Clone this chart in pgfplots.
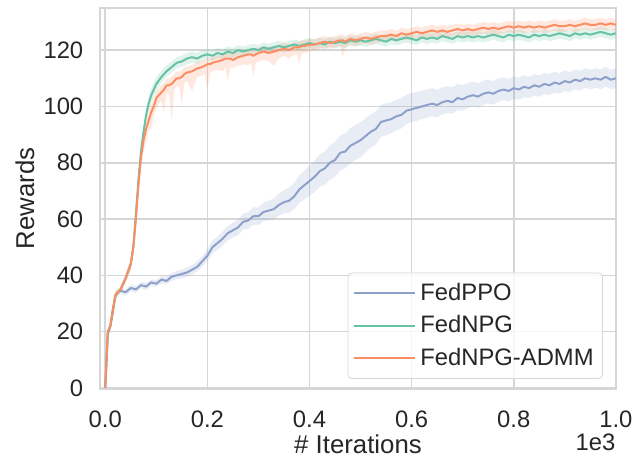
\documentclass[border=0pt]{standalone}
\usepackage{pgfplots}
\pgfplotsset{compat=1.18}
\usepackage{pgfplotstable}
\usepgfplotslibrary{fillbetween}
\usepackage{fontspec}
\setmainfont{Liberation Sans}

\definecolor{cppo}{HTML}{8DA0CB}
\definecolor{cnpg}{HTML}{66C2A5}
\definecolor{cadm}{HTML}{FC8D62}
\definecolor{cgrid}{HTML}{D6D6D6}
\definecolor{ctext}{HTML}{262626}

% x in units of 1e3 iterations; dn/up = spread below/above the mean
\pgfplotstableread{
x y dn up
0 0 0 0
0.005 19 1 1
0.01 22 1.5 1.5
0.015 27 1.5 1.5
0.02 33 1.5 1
0.025 34 1 1
0.03 34.5 1 1.2
0.04 34 1.2 1
0.05 35.5 1 1.3
0.06 35 1.3 1
0.07 36.5 1 1.2
0.08 36 1.2 1.3
0.09 37.5 1.3 1
0.10 37 1 1.4
0.11 38.5 1.4 1.2
0.12 38 1.2 1.5
0.13 39.5 1.5 1.3
0.14 40 1.3 1.6
0.15 40.5 1.6 1.5
0.16 41 1.5 1.8
0.17 42 1.8 1.6
0.18 43 1.6 2
0.19 45 2 1.8
0.20 47 2 2.2
0.21 50 2.2 2.5
0.22 51.5 2.5 2.2
0.23 53 2.4 2.6
0.24 55 2.6 2.5
0.25 56 2.5 2.8
0.26 57 2.8 2.7
0.27 59 2.7 3
0.28 59.5 3 2.9
0.29 61 3 3.2
0.30 61 3.2 3.1
0.31 62.5 3.2 3.4
0.32 63 3.4 3.5
0.33 63.5 3.6 3.8
0.34 65 3.8 4
0.35 66 4 4.3
0.36 66.5 4.2 4.6
0.37 68 4.5 4.8
0.38 70.5 4.8 5
0.39 72 5 5.3
0.40 73.5 5.2 5.5
0.41 75 5.4 5.8
0.42 77 5.6 6
0.43 78 5.8 6
0.44 80 6 6.2
0.45 81 6 6.4
0.46 83.5 6.2 6.2
0.47 84 6 6.5
0.48 86 6.2 6.3
0.49 87 6 6.5
0.50 88 6.1 6.4
0.51 89.5 5.8 6.3
0.52 91 5.6 6.2
0.53 92 5.5 6.3
0.54 94.5 5.3 6
0.55 95 5.2 6.1
0.56 95.5 5 6
0.57 96.5 5 5.8
0.58 97 4.8 5.9
0.59 98.5 4.8 5.7
0.60 99 4.6 5.8
0.61 99.5 4.6 5.6
0.62 100 4.5 5.7
0.63 100.5 4.5 5.5
0.64 101 4.4 5.5
0.65 100.5 4.4 5.4
0.66 101.5 4.3 5.3
0.67 102 4.3 5.2
0.68 101.5 4.2 5.2
0.69 103 4.2 5
0.70 102.5 4.1 5
0.71 103.5 4.1 4.9
0.72 104 4 4.8
0.73 103.5 4 4.8
0.74 104.5 4 4.6
0.75 105 3.9 4.6
0.76 104.5 3.9 4.5
0.77 105.5 3.8 4.4
0.78 106 3.8 4.3
0.79 105.5 3.8 4.3
0.80 106.5 3.7 4.2
0.81 106 3.7 4.2
0.82 107 3.7 4.1
0.83 106.5 3.6 4
0.84 107.5 3.6 4
0.85 107 3.6 4
0.86 108 3.6 3.9
0.87 107.5 3.5 3.9
0.88 108.5 3.5 3.8
0.89 108 3.5 3.8
0.90 109 3.5 3.8
0.91 108.5 3.5 3.7
0.92 109.5 3.4 3.7
0.93 109 3.4 3.7
0.94 110 3.4 3.6
0.95 109.5 3.4 3.6
0.96 110 3.4 3.6
0.97 109.5 3.4 3.6
0.98 110.5 3.4 3.5
0.99 109.5 3.4 3.5
1.00 110 3.4 3.5
}\ppo

\pgfplotstableread{
x y dn up
0 0 0 0
0.005 20 1 1
0.01 22 1.5 1.5
0.015 28 1.5 1.5
0.02 33 1.5 1.5
0.025 34 1 1
0.03 35 1 1
0.04 39 1.5 1.5
0.05 44 2 2
0.055 50 2.5 2.5
0.06 62 3 3
0.065 74 3 3
0.07 84 3 3
0.075 91 3 2.5
0.08 97 2.5 2.5
0.085 101 2.5 2.5
0.09 104 2.5 2.5
0.095 106 2.5 2.5
0.10 108 2.5 2.5
0.11 110.5 2.2 2.2
0.12 112.5 2 2.2
0.13 114 2 2
0.14 115.5 2 2
0.15 116 2 2
0.16 117 2 2
0.17 117.5 2 2
0.18 117 1.8 2
0.19 118 1.8 2
0.20 118.5 1.8 1.8
0.21 118 1.8 1.8
0.22 119 1.8 1.8
0.23 118.5 1.8 1.8
0.24 119.5 1.8 1.8
0.25 119 1.8 1.8
0.26 120 1.8 1.8
0.27 119.5 1.8 1.8
0.28 120 1.8 1.8
0.29 120.5 1.8 1.8
0.30 120 1.8 1.8
0.31 121 1.8 1.8
0.32 120.5 1.8 1.8
0.33 121 1.8 1.8
0.34 121.5 1.8 1.8
0.35 121 1.8 1.8
0.36 121.5 1.8 1.8
0.37 122 1.8 1.8
0.38 121.5 1.8 1.8
0.39 122 1.8 1.8
0.40 122.5 1.8 1.8
0.41 122 1.8 1.8
0.42 122.5 1.8 1.8
0.43 122 1.8 1.8
0.44 123 1.8 1.8
0.45 122.5 1.8 1.8
0.46 123 1.8 1.8
0.47 122.5 1.8 1.8
0.48 123.5 1.8 1.8
0.49 123 1.8 1.8
0.50 123.5 1.8 1.8
0.51 123 1.8 1.8
0.52 123.5 1.8 1.8
0.53 124 1.8 1.8
0.54 123.5 1.8 1.8
0.55 123 1.8 1.8
0.56 124 1.8 1.8
0.57 123.5 1.8 1.8
0.58 124 1.8 1.8
0.59 124.5 1.8 1.8
0.60 124 1.8 1.8
0.61 123.5 1.8 1.8
0.62 124.5 1.8 1.8
0.63 124 1.8 1.8
0.64 124.5 1.8 1.8
0.65 124 1.8 1.8
0.66 125 1.8 1.8
0.67 124.5 1.8 1.8
0.68 124 1.8 1.8
0.69 125 1.8 1.8
0.70 124.5 1.8 1.8
0.71 125 1.8 1.8
0.72 124.5 1.8 1.8
0.73 125 1.8 1.8
0.74 124.5 1.8 1.8
0.75 125 1.8 1.8
0.76 125.5 1.8 1.8
0.77 125 1.8 1.8
0.78 124.5 1.8 1.8
0.79 125.5 1.8 1.8
0.80 125 1.8 1.8
0.81 125.5 1.8 1.8
0.82 125 1.8 1.8
0.83 124.5 1.8 1.8
0.84 125.5 1.8 1.8
0.85 125 1.8 1.8
0.86 125.5 1.8 1.8
0.87 125 1.8 1.8
0.88 125.5 1.8 1.8
0.89 126 1.8 1.8
0.90 125.5 1.8 1.8
0.91 125 1.8 1.8
0.92 126 1.8 1.8
0.93 125.5 1.8 1.8
0.94 126 1.8 1.8
0.95 125.5 1.8 1.8
0.96 126 1.8 1.8
0.97 126.5 1.8 1.8
0.98 126 1.8 1.8
0.99 125.5 1.8 1.8
1.00 126 1.8 1.8
}\npg

\pgfplotstableread{
x y dn up
0 0 0 0
0.005 20 1 1
0.01 22 1.5 1.5
0.015 28 1.5 1.5
0.02 33 1.5 1.5
0.025 34 1 1
0.03 35 1 1
0.04 39 1.5 1.5
0.05 44 2 2
0.055 50 2.5 2.5
0.06 60 3 3
0.065 72 3 3
0.07 82 3 3
0.075 88 4 3
0.08 92 5 3
0.085 95 3 3
0.09 98 6 3
0.095 100 3 3
0.10 103 4 2.5
0.105 104 3 2.5
0.11 105 3 2.5
0.115 106 8 2.5
0.12 107.5 3 2.5
0.125 107.5 3 2.5
0.13 108 13 2.5
0.135 109 3 2.5
0.14 110 3 2.5
0.145 110 3 2.5
0.15 110.5 10 2.5
0.155 111.5 3 2.5
0.16 112 3 2.2
0.17 112.5 7 2.2
0.18 113.5 3 2.2
0.19 114 3 2.2
0.195 114.5 3 2
0.20 115 9 2
0.205 115 3 2
0.21 115.5 3 2
0.22 116 3 2
0.23 116.5 4 2
0.235 117 3 2
0.24 117 8 2
0.245 117 3 2
0.25 116.5 3 2
0.26 117.5 3 2
0.27 118 3 2
0.28 118.5 4 2
0.285 118.5 3 2
0.29 118 7 2
0.295 118.5 3 2
0.30 119 3 2
0.31 119.5 3 2
0.32 119 3 2
0.33 119.5 5 2
0.34 120 3 2
0.35 120.5 2.5 2
0.36 120 3 2
0.37 121 2.5 2
0.375 121 2.5 2
0.38 121 6 2
0.385 121.5 2.5 2
0.39 121.5 2.5 2
0.40 122 2.5 2
0.41 122 2 2
0.42 122.5 2 2
0.43 123 2 2
0.44 122.5 2 2
0.45 123 2 2
0.46 123.5 2 2
0.465 123.5 6 2
0.47 123 2 2
0.48 124 2 2
0.49 123.5 2 2
0.50 124 2 2
0.51 124.5 2 2
0.52 124 2 2
0.53 124.5 2 2
0.54 125 2 2
0.55 125 2 2
0.56 125.5 2 2
0.57 125 2 2
0.58 126 2 2
0.59 125.5 2 2
0.60 126 2 2
0.61 126.5 2 2
0.62 126 2 2
0.63 126.5 2 2
0.64 127 2 2
0.65 126.5 2 2
0.66 127 2 2
0.67 126.5 2 2
0.68 127 2 2
0.69 127.5 2 2
0.70 127 2 2
0.71 127.5 2 2
0.72 127 2 2
0.73 127.5 2 2
0.74 128 2 2
0.75 127.5 2 2
0.76 128 2 2
0.77 127.5 2 2
0.78 128 2 2
0.79 128.5 2 2
0.80 128 2 2
0.81 128.5 2 2
0.82 128 2 2
0.83 128.5 2 2
0.84 128 2 2
0.85 128.5 2 2
0.86 128 2 2
0.87 128.5 2 2
0.88 129 2 2
0.89 128.5 2 2
0.90 128.5 2 2
0.91 129 2 2
0.92 128.5 2 2
0.93 129 2 2
0.94 129.5 2 2
0.95 129 2 2
0.96 129 2 2
0.97 129.5 2 2
0.98 129 2 2
0.99 129.5 2 2
1.00 129 2 2
}\adm

\begin{document}
\begin{tikzpicture}
\begin{axis}[
  scale only axis,
  width=260pt, height=192pt,
  xmin=-0.01, xmax=1.0,
  ymin=-0.3, ymax=135,
  xtick={0,0.2,0.4,0.6,0.8,1.0},
  xticklabels={0.0,0.2,0.4,0.6,0.8,1.0},
  ytick={0,20,40,60,80,100,120},
  grid=major,
  major grid style={cgrid, line width=0.8pt},
  axis line style={cgrid, line width=0.9pt},
  major tick length=0pt,
  tick label style={font=\fontsize{12}{14}\selectfont, text=ctext},
  /pgf/number format/assume math mode=true,
  xticklabel style={yshift=-7.5pt},
  yticklabel style={xshift=-5pt},
  xlabel={\# Iterations},
  ylabel={Rewards},
  every axis x label/.style={at={([yshift=-28pt]rel axis cs:0.5,0)}, anchor=center,
    font=\fontsize{13}{15}\selectfont, text=ctext},
  every axis y label/.style={at={([xshift=-38pt]rel axis cs:0,0.5)}, anchor=center, rotate=90,
    font=\fontsize{13}{15}\selectfont, text=ctext},
  legend style={at={(1,0)}, anchor=south east, xshift=-6.5pt, yshift=5pt,
    draw=cgrid, rounded corners=2pt, fill=white, fill opacity=0.8, text opacity=1,
    font=\fontsize{12}{14}\selectfont, text=ctext,
    inner xsep=2.5pt, inner ysep=3pt, row sep=2.3pt},
  legend cell align=left,
  legend image code/.code={\draw[#1, line width=0.8pt] (0pt,0pt) -- (25pt,0pt);
    \path (0pt,0pt) -- (31pt,0pt);},
  every axis plot/.append style={line join=round},
]
% spread bands
\addplot[name path=pU, draw=none, forget plot] table[x=x, y expr=\thisrow{y}+\thisrow{up}] {\ppo};
\addplot[name path=pL, draw=none, forget plot] table[x=x, y expr=\thisrow{y}-\thisrow{dn}] {\ppo};
\addplot[fill=cppo, fill opacity=0.2, draw=none, forget plot] fill between[of=pU and pL];
\addplot[name path=nU, draw=none, forget plot] table[x=x, y expr=\thisrow{y}+\thisrow{up}] {\npg};
\addplot[name path=nL, draw=none, forget plot] table[x=x, y expr=\thisrow{y}-\thisrow{dn}] {\npg};
\addplot[fill=cnpg, fill opacity=0.2, draw=none, forget plot] fill between[of=nU and nL];
\addplot[name path=aU, draw=none, forget plot] table[x=x, y expr=\thisrow{y}+\thisrow{up}] {\adm};
\addplot[name path=aL, draw=none, forget plot] table[x=x, y expr=\thisrow{y}-\thisrow{dn}] {\adm};
\addplot[fill=cadm, fill opacity=0.2, draw=none, forget plot] fill between[of=aU and aL];
% mean curves
\addplot[cppo, line width=1pt] table[x=x, y=y] {\ppo};
\addplot[cnpg, line width=1pt] table[x=x, y=y] {\npg};
\addplot[cadm, line width=1pt] table[x=x, y=y] {\adm};
\legend{FedPPO, FedNPG, FedNPG-ADMM}
\coordinate (bbA) at (rel axis cs:0,0);
\coordinate (bbB) at (rel axis cs:1,1);
\end{axis}
\node[anchor=north east, inner sep=0pt, font=\fontsize{12}{14}\selectfont, text=ctext]
  at ([yshift=-22.5pt]bbA -| bbB) {1e3};
\path ([shift={(-50.5pt,-33.5pt)}]bbA) rectangle ([shift={(9pt,4pt)}]bbB);
\end{tikzpicture}
\end{document}
